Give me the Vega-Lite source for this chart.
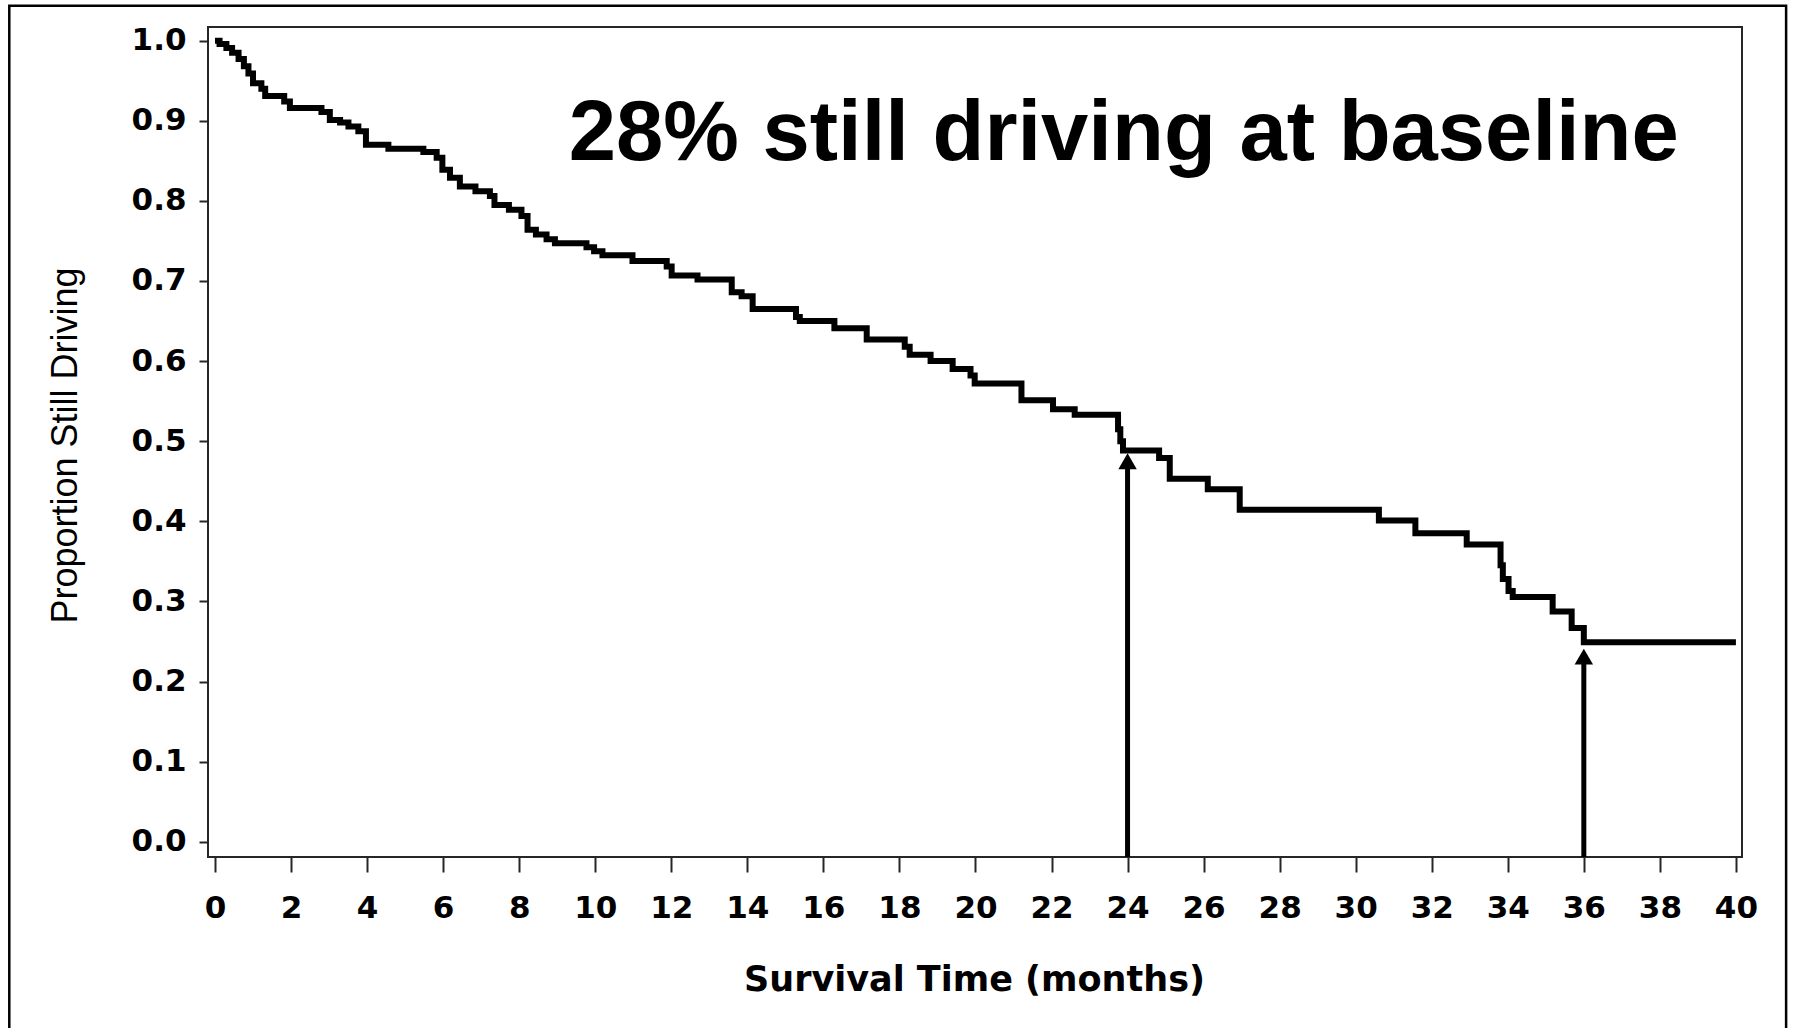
{
  "$schema": "https://vega.github.io/schema/vega-lite/v6.json",
  "width": 1534,
  "height": 830,
  "autosize": {"type": "none"},
  "padding": {"left": 208, "top": 27, "right": 52, "bottom": 171},
  "background": "white",
  "config": {"view": {"stroke": "#262626", "strokeWidth": 2}},
  "datasets": {
    "km": [
      {"month": 0, "prop": 1.0},
      {"month": 0.12, "prop": 0.996},
      {"month": 0.3, "prop": 0.991},
      {"month": 0.45, "prop": 0.985},
      {"month": 0.62, "prop": 0.977},
      {"month": 0.76, "prop": 0.968},
      {"month": 0.88, "prop": 0.959},
      {"month": 1.0, "prop": 0.947},
      {"month": 1.22, "prop": 0.94},
      {"month": 1.32, "prop": 0.931},
      {"month": 1.82, "prop": 0.924},
      {"month": 1.97, "prop": 0.916},
      {"month": 2.8, "prop": 0.911},
      {"month": 3.02, "prop": 0.901},
      {"month": 3.29, "prop": 0.898},
      {"month": 3.51, "prop": 0.893},
      {"month": 3.77, "prop": 0.887},
      {"month": 3.97, "prop": 0.87},
      {"month": 4.56, "prop": 0.865},
      {"month": 5.48, "prop": 0.861},
      {"month": 5.83, "prop": 0.854},
      {"month": 5.98, "prop": 0.839},
      {"month": 6.18, "prop": 0.829},
      {"month": 6.44, "prop": 0.818},
      {"month": 6.85, "prop": 0.812},
      {"month": 7.23, "prop": 0.806},
      {"month": 7.35, "prop": 0.795},
      {"month": 7.73, "prop": 0.789},
      {"month": 8.06, "prop": 0.781},
      {"month": 8.22, "prop": 0.764},
      {"month": 8.44, "prop": 0.758},
      {"month": 8.72, "prop": 0.752},
      {"month": 8.94, "prop": 0.747},
      {"month": 9.77, "prop": 0.742},
      {"month": 9.97, "prop": 0.737},
      {"month": 10.19, "prop": 0.732},
      {"month": 10.98, "prop": 0.725},
      {"month": 11.88, "prop": 0.718},
      {"month": 12.01, "prop": 0.707},
      {"month": 12.69, "prop": 0.702},
      {"month": 13.59, "prop": 0.686},
      {"month": 13.85, "prop": 0.681},
      {"month": 14.14, "prop": 0.665},
      {"month": 15.28, "prop": 0.655},
      {"month": 15.38, "prop": 0.65},
      {"month": 16.29, "prop": 0.641},
      {"month": 17.14, "prop": 0.627},
      {"month": 18.14, "prop": 0.618},
      {"month": 18.27, "prop": 0.608},
      {"month": 18.82, "prop": 0.6},
      {"month": 19.4, "prop": 0.59},
      {"month": 19.87, "prop": 0.582},
      {"month": 19.98, "prop": 0.572},
      {"month": 21.21, "prop": 0.551},
      {"month": 22.04, "prop": 0.54},
      {"month": 22.61, "prop": 0.533},
      {"month": 23.75, "prop": 0.515},
      {"month": 23.81, "prop": 0.5},
      {"month": 23.88, "prop": 0.4885},
      {"month": 24.83, "prop": 0.479},
      {"month": 25.11, "prop": 0.453},
      {"month": 26.11, "prop": 0.44},
      {"month": 26.95, "prop": 0.4145},
      {"month": 30.61, "prop": 0.401},
      {"month": 31.57, "prop": 0.385},
      {"month": 32.92, "prop": 0.371},
      {"month": 33.81, "prop": 0.345},
      {"month": 33.87, "prop": 0.328},
      {"month": 34.02, "prop": 0.313},
      {"month": 34.13, "prop": 0.3055},
      {"month": 35.18, "prop": 0.2875},
      {"month": 35.68, "prop": 0.2667},
      {"month": 36.0, "prop": 0.249},
      {"month": 40.0, "prop": 0.249}
    ],
    "arrows": [
      {"month": 24, "tip": 0.485},
      {"month": 36, "tip": 0.241}
    ]
  },
  "layer": [
    {
      "data": {"name": "km"},
      "mark": {"type": "line", "interpolate": "step-after", "color": "black", "strokeWidth": 6, "strokeJoin": "miter", "strokeCap": "butt"},
      "encoding": {
        "x": {
          "field": "month", "type": "quantitative",
          "scale": {"domain": [-0.184, 40.16], "nice": false, "zero": false},
          "axis": {
            "title": "Survival Time (months)",
            "values": [0, 2, 4, 6, 8, 10, 12, 14, 16, 18, 20, 22, 24, 26, 28, 30, 32, 34, 36, 38, 40],
            "format": "d",
            "domain": false,
            "grid": false,
            "tickSize": 15, "tickWidth": 2, "tickColor": "#262626",
            "labelFont": "DejaVu Sans", "labelFontWeight": "bold", "labelFontSize": 31, "labelColor": "black",
            "labelPadding": 21, "labelFlush": false, "labelOverlap": false, "labelBound": false,
            "titleFont": "DejaVu Sans", "titleFontWeight": "bold", "titleFontSize": 35, "titleColor": "black",
            "titleX": 766, "titleY": 133, "titleAlign": "center", "titleBaseline": "alphabetic"
          }
        },
        "y": {
          "field": "prop", "type": "quantitative",
          "scale": {"domain": [-0.0191, 1.0171], "nice": false, "zero": false},
          "axis": {
            "title": "Proportion Still Driving",
            "values": [0, 0.1, 0.2, 0.3, 0.4, 0.5, 0.6, 0.7, 0.8, 0.9, 1.0],
            "format": ".1f",
            "domain": false,
            "grid": false,
            "tickSize": 9, "tickWidth": 2, "tickColor": "#262626",
            "labelFont": "DejaVu Sans", "labelFontWeight": "bold", "labelFontSize": 31, "labelColor": "black",
            "labelPadding": 13, "labelFlush": false, "labelOverlap": false, "labelBound": false,
            "titleFont": "Liberation Sans", "titleFontWeight": "normal", "titleFontSize": 36, "titleColor": "black",
            "titleAngle": 270, "titleX": -132, "titleY": 418, "titleAlign": "center", "titleBaseline": "alphabetic"
          }
        }
      }
    },
    {
      "data": {"values": [{}]},
      "mark": {"type": "rect", "fillOpacity": 0, "stroke": "black", "strokeWidth": 2.5, "clip": false},
      "encoding": {
        "x": {"datum": -5.41, "type": "quantitative"},
        "x2": {"datum": 41.32},
        "y": {"datum": 1.0437, "type": "quantitative"},
        "y2": {"datum": -0.2363}
      }
    },
    {
      "data": {"name": "arrows"},
      "mark": {"type": "rule", "color": "black", "strokeWidth": 5, "yOffset": 14},
      "encoding": {
        "x": {"field": "month", "type": "quantitative"},
        "y": {"field": "tip", "type": "quantitative"},
        "y2": {"datum": -0.0191}
      }
    },
    {
      "data": {"name": "arrows"},
      "mark": {"type": "point", "shape": "M0,0L-1,1.73L1,1.73Z", "size": 340, "filled": true, "color": "black", "opacity": 1, "strokeWidth": 0},
      "encoding": {
        "x": {"field": "month", "type": "quantitative"},
        "y": {"field": "tip", "type": "quantitative"}
      }
    },
    {
      "data": {"values": [{}]},
      "mark": {"type": "text", "text": "28% still driving at baseline", "font": "Liberation Sans", "fontWeight": "bold", "fontSize": 85, "align": "center", "baseline": "alphabetic", "color": "black"},
      "encoding": {
        "x": {"datum": 23.9, "type": "quantitative"},
        "y": {"datum": 0.8511, "type": "quantitative"}
      }
    }
  ]
}
